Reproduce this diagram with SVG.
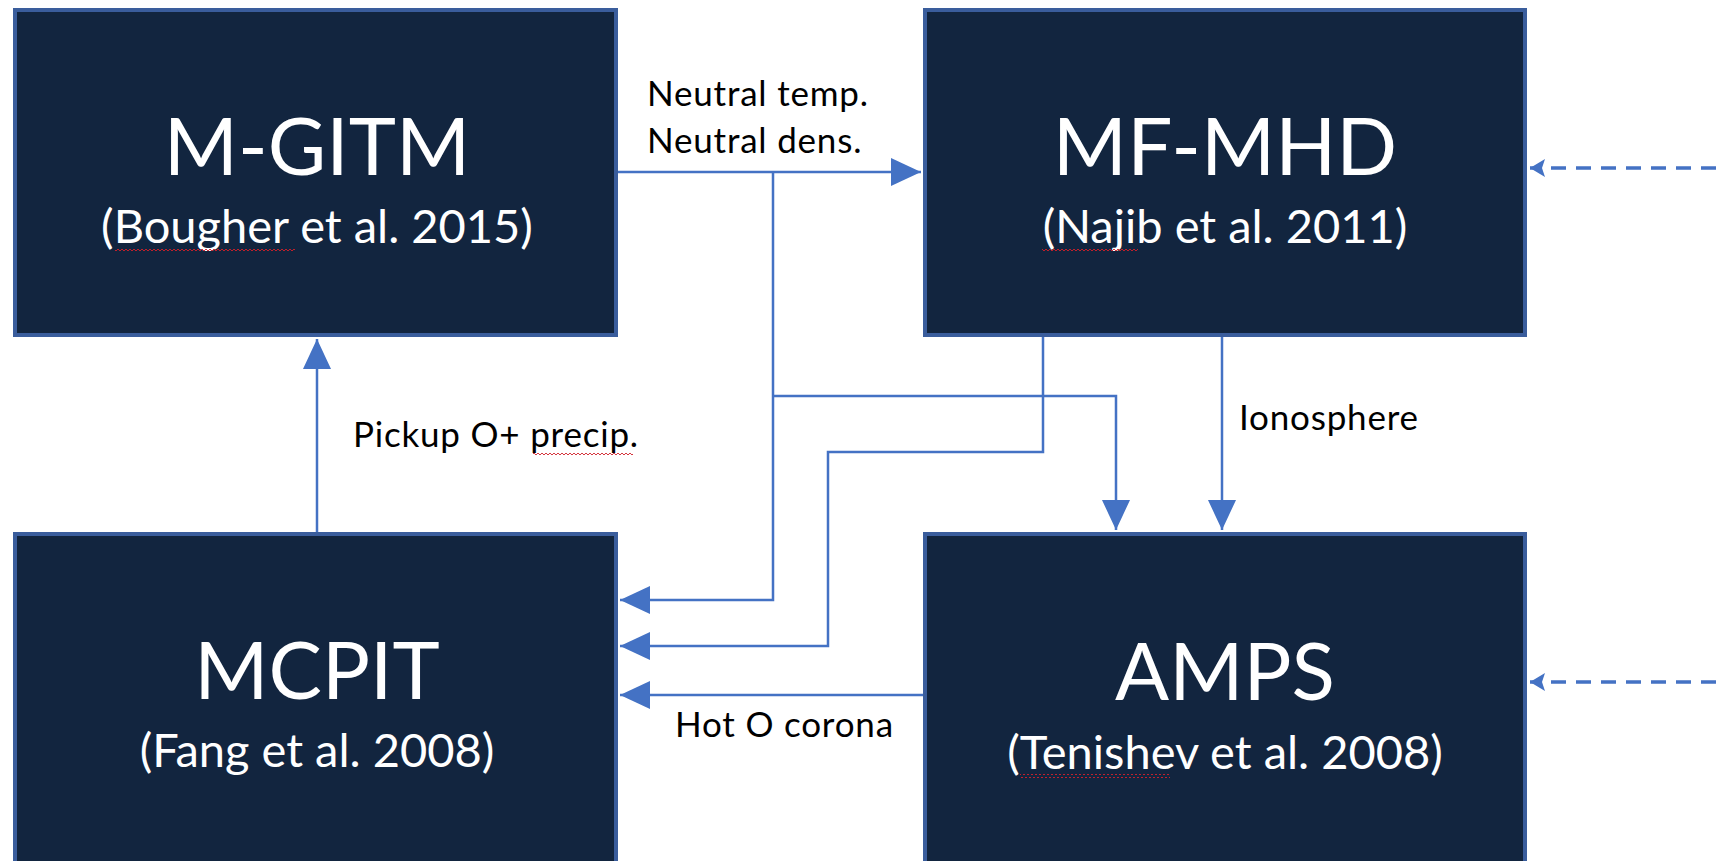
<svg xmlns="http://www.w3.org/2000/svg" width="1716" height="861" viewBox="0 0 1716 861">
  <style>
    .box { fill: #12253f; stroke: #3a5d9c; stroke-width: 4; }
    .title { font-family: Lato, "Liberation Sans", sans-serif; font-size: 80px; fill: #ffffff; text-anchor: middle; }
    .ref { font-family: Lato, "Liberation Sans", sans-serif; font-size: 47px; fill: #ffffff; text-anchor: middle; }
    .lbl { font-family: Lato, "Liberation Sans", sans-serif; font-size: 35px; letter-spacing: 0.8px; fill: #000000; }
    .wire { fill: none; stroke: #4472c4; stroke-width: 2.5; }
    .dash { fill: none; stroke: #4472c4; stroke-width: 3.5; stroke-dasharray: 15 10; }
    .squig { fill: url(#wave); }
  </style>
  <defs>
    <marker id="arrow" markerUnits="userSpaceOnUse" markerWidth="32" markerHeight="28" refX="30" refY="14" orient="auto">
      <path d="M0,0 L30,14 L0,28 Z" fill="#4472c4"/>
    </marker>
    <marker id="arrowSmall" markerUnits="userSpaceOnUse" markerWidth="16" markerHeight="18" refX="15" refY="9" orient="auto">
      <path d="M0,0 L15,9 L0,18 L3,9 Z" fill="#4472c4"/>
    </marker>
    <pattern id="wave" patternUnits="userSpaceOnUse" width="4" height="4">
      <path d="M0,3 L2,1 L4,3" fill="none" stroke="#d0202a" stroke-width="0.9"/>
    </pattern>
  </defs>

  <rect width="1716" height="861" fill="#ffffff"/>

  <!-- connectors -->
  <g id="connectors">
    <!-- M-GITM to MF-MHD -->
    <path class="wire" d="M618,172 H921" marker-end="url(#arrow)"/>
    <!-- branch down to MCPIT -->
    <path class="wire" d="M773,172 V600 H620" marker-end="url(#arrow)"/>
    <!-- branch across to AMPS -->
    <path class="wire" d="M773,396 H1116 V530" marker-end="url(#arrow)"/>
    <!-- MF-MHD to MCPIT -->
    <path class="wire" d="M1043,337 V452 H828 V646 H620" marker-end="url(#arrow)"/>
    <!-- MF-MHD to AMPS (ionosphere) -->
    <path class="wire" d="M1222,337 V530" marker-end="url(#arrow)"/>
    <!-- AMPS to MCPIT (hot O corona) -->
    <path class="wire" d="M923,695 H620" marker-end="url(#arrow)"/>
    <!-- MCPIT to M-GITM (pickup O+) -->
    <path class="wire" d="M317,532 V339" marker-end="url(#arrow)"/>
    <!-- external inputs -->
    <path class="dash" d="M1716,168 H1530" marker-end="url(#arrowSmall)"/>
    <path class="dash" d="M1716,682 H1530" marker-end="url(#arrowSmall)"/>

    <text class="lbl" x="647" y="106">Neutral temp.</text>
    <text class="lbl" x="647" y="153">Neutral dens.</text>
    <text class="lbl" x="1239" y="430">Ionosphere</text>
    <text class="lbl" x="353" y="447">Pickup O+ precip.</text>
    <rect class="squig" x="533" y="451" width="100" height="4"/>
    <text class="lbl" x="675" y="737">Hot O corona</text>
  </g>

  <g id="m-gitm">
    <rect class="box" x="15" y="10" width="601" height="325"/>
    <text class="title" x="317" y="175">M-GITM</text>
    <text class="ref" x="317" y="243">(Bougher et al. 2015)</text>
    <rect class="squig" x="115" y="248" width="180" height="4"/>
  </g>

  <g id="mf-mhd">
    <rect class="box" x="925" y="10" width="600" height="325"/>
    <text class="title" x="1225" y="175">MF-MHD</text>
    <text class="ref" x="1225" y="243">(Najib et al. 2011)</text>
    <rect class="squig" x="1042" y="248" width="96" height="4"/>
  </g>

  <g id="mcpit">
    <rect class="box" x="15" y="534" width="601" height="335"/>
    <text class="title" x="317" y="699">MCPIT</text>
    <text class="ref" x="317" y="767">(Fang et al. 2008)</text>
  </g>

  <g id="amps">
    <rect class="box" x="925" y="534" width="600" height="335"/>
    <text class="title" x="1225" y="700">AMPS</text>
    <text class="ref" x="1225" y="769">(Tenishev et al. 2008)</text>
    <rect class="squig" x="1020" y="774" width="150" height="4"/>
  </g>
</svg>
